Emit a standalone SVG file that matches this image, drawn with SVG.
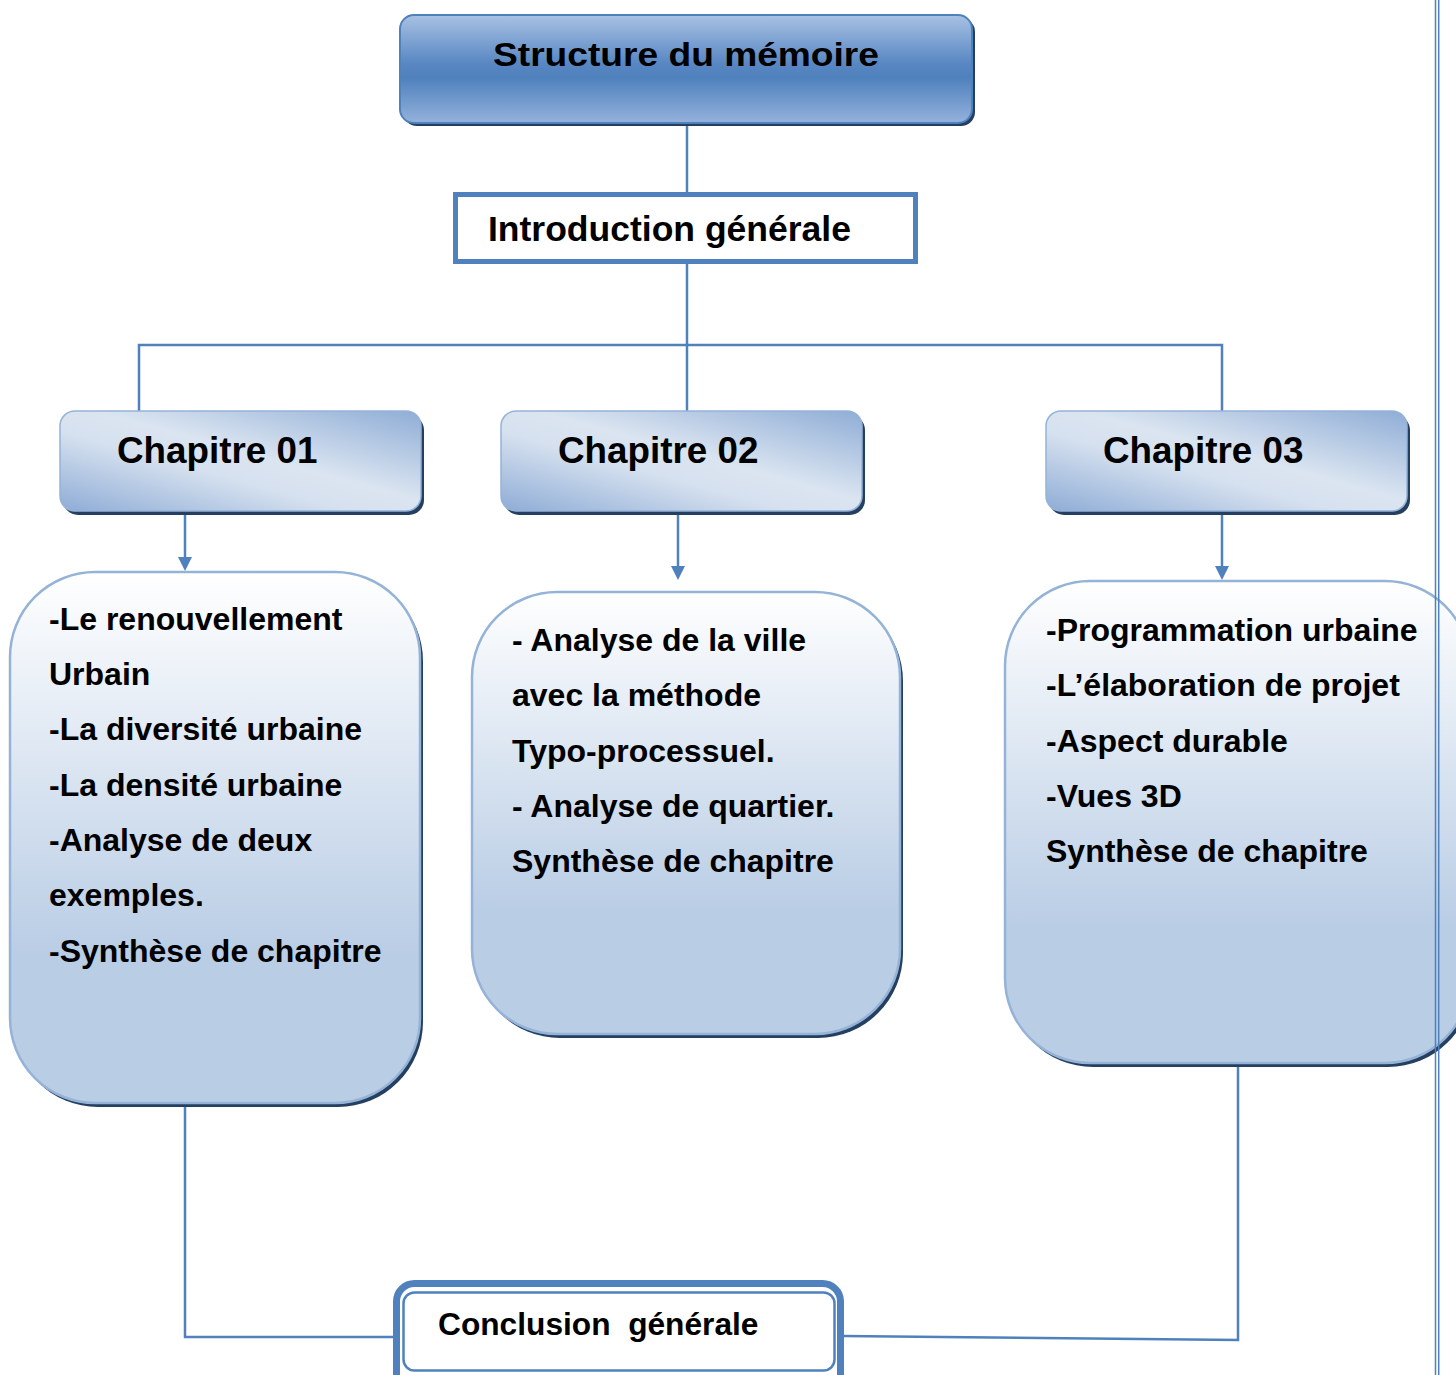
<svg xmlns="http://www.w3.org/2000/svg" width="1456" height="1375" viewBox="0 0 1456 1375">
<defs>
<linearGradient id="gTitle" x1="0" y1="0" x2="0" y2="1">
<stop offset="0" stop-color="#a9c1e3"/>
<stop offset="0.45" stop-color="#5887c3"/>
<stop offset="0.58" stop-color="#4f81bd"/>
<stop offset="1" stop-color="#94b2dc"/>
</linearGradient>
<linearGradient id="gChap" x1="1" y1="0" x2="0" y2="1">
<stop offset="0" stop-color="#8fadd6"/>
<stop offset="0.45" stop-color="#dbe5f1"/>
<stop offset="0.6" stop-color="#d6e1ef"/>
<stop offset="1" stop-color="#8eacd6"/>
</linearGradient>
<linearGradient id="gBox" x1="0" y1="0" x2="0" y2="1">
<stop offset="0" stop-color="#ffffff"/>
<stop offset="0.72" stop-color="#b9cde5"/>
<stop offset="1" stop-color="#b9cde5"/>
</linearGradient>
</defs>
<style>
.t{font-family:"Liberation Sans",Arial,sans-serif;font-weight:bold;fill:#000}
.ln{stroke:#4f81bd;stroke-width:2.5;fill:none}
.sh{fill:#243f60}
.chap{fill:url(#gChap);stroke:#95b3d7;stroke-width:1.5}
.box{fill:url(#gBox);stroke:#95b3d7;stroke-width:2.5}
.ah{fill:#4f81bd}
</style>
<rect width="1456" height="1375" fill="#ffffff"/>

<g id="connectors">
<path class="ln" d="M687 123 V193"/>
<path class="ln" d="M687 262 V411"/>
<path class="ln" d="M139 411 V345 H1222 V411"/>
<path class="ln" d="M185 512 V558"/>
<polygon class="ah" points="178,557 192,557 185,571"/>
<path class="ln" d="M678 512 V567"/>
<polygon class="ah" points="671,566 685,566 678,580"/>
<path class="ln" d="M1222 512 V567"/>
<polygon class="ah" points="1215,566 1229,566 1222,580"/>
<path class="ln" d="M185 1105 V1337 H394"/>
<path class="ln" d="M1238 1065 V1340 L843 1336"/>
</g>

<g id="title">
<rect class="sh" x="403" y="18" width="572" height="108" rx="14"/>
<rect x="400" y="15" width="572" height="108" rx="14" fill="url(#gTitle)" stroke="#4f81bd" stroke-width="2"/>
<text class="t" x="493" y="66" font-size="34" textLength="386" lengthAdjust="spacingAndGlyphs">Structure du mémoire</text>
</g>

<g id="intro">
<rect x="455.5" y="194.5" width="460" height="67" fill="#ffffff" stroke="#4f81bd" stroke-width="5"/>
<text class="t" x="488" y="241" font-size="35.5">Introduction générale</text>
</g>

<g id="chap1">
<rect class="sh" x="63" y="415" width="361" height="100" rx="15"/>
<rect class="chap" x="60" y="411" width="361" height="100" rx="15"/>
<text class="t" x="117" y="463" font-size="36.8">Chapitre 01</text>
</g>
<g id="chap2">
<rect class="sh" x="504" y="415" width="361" height="100" rx="15"/>
<rect class="chap" x="501" y="411" width="361" height="100" rx="15"/>
<text class="t" x="558" y="463" font-size="36.8">Chapitre 02</text>
</g>
<g id="chap3">
<rect class="sh" x="1049" y="415" width="361" height="100" rx="15"/>
<rect class="chap" x="1046" y="411" width="361" height="100" rx="15"/>
<text class="t" x="1103" y="463" font-size="36.8">Chapitre 03</text>
</g>

<g id="box1">
<rect class="sh" x="13" y="576" width="410" height="531" rx="85"/>
<rect class="box" x="10" y="572" width="410" height="531" rx="85"/>
<g class="t" font-size="32">
<text x="49" y="630">-Le renouvellement</text>
<text x="49" y="685">Urbain</text>
<text x="49" y="740">-La diversité urbaine</text>
<text x="49" y="796">-La densité urbaine</text>
<text x="49" y="851">-Analyse de deux</text>
<text x="49" y="906">exemples.</text>
<text x="49" y="962">-Synthèse de chapitre</text>
</g>
</g>

<g id="box2">
<rect class="sh" x="475" y="596" width="428" height="442" rx="85"/>
<rect class="box" x="472" y="592" width="428" height="442" rx="85"/>
<g class="t" font-size="32">
<text x="512" y="651">- Analyse de la ville</text>
<text x="512" y="706">avec la méthode</text>
<text x="512" y="762">Typo-processuel.</text>
<text x="512" y="817">- Analyse de quartier.</text>
<text x="512" y="872">Synthèse de chapitre</text>
</g>
</g>

<g id="box3">
<rect class="sh" x="1008" y="585" width="465" height="482" rx="85"/>
<rect class="box" x="1005" y="581" width="465" height="482" rx="85"/>
<g class="t" font-size="32">
<text x="1046" y="641">-Programmation urbaine</text>
<text x="1046" y="696">-L’élaboration de projet</text>
<text x="1046" y="752">-Aspect durable</text>
<text x="1046" y="807">-Vues 3D</text>
<text x="1046" y="862">Synthèse de chapitre</text>
</g>
</g>

<g id="conclusion">
<rect x="396.5" y="1283.5" width="444" height="110" rx="18" fill="#ffffff" stroke="#4f81bd" stroke-width="7"/>
<rect x="403.5" y="1292.5" width="431" height="78" rx="11" fill="#ffffff" stroke="#4f81bd" stroke-width="2.5"/>
<text class="t" x="438" y="1335" font-size="31.7" xml:space="preserve">Conclusion  générale</text>
</g>

<g id="page-border">
<line x1="1435.5" y1="0" x2="1435.5" y2="1375" stroke="#4f81bd" stroke-width="1.5"/>
<line x1="1438.7" y1="0" x2="1438.7" y2="1375" stroke="#4f81bd" stroke-width="1.5"/>
</g>
</svg>
